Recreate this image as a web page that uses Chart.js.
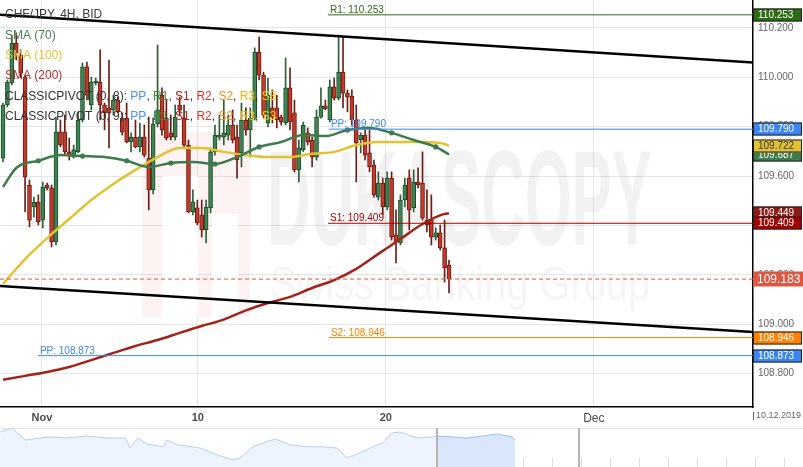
<!DOCTYPE html>
<html>
<head>
<meta charset="utf-8">
<script src="https://cdn.jsdelivr.net/npm/chart.js@4.4.1/dist/chart.umd.min.js"></script>
<style>
html, body { margin: 0; padding: 0; background: #fff; }
#wrap { position: relative; width: 803px; height: 467px; overflow: hidden; }
#main { position: absolute; left: 0; top: 0; width: 803px; height: 428px; }
#nav { position: absolute; left: 0; top: 428px; width: 803px; height: 39px; }
</style>
</head>
<body>
<div id="wrap">
  <canvas id="main" width="803" height="428"></canvas>
  <canvas id="nav" width="803" height="39"></canvas>
</div>
<script>
// CHF/JPY 4H candles, index 0 = first visible candle
const opens = [
  109.673, 109.888, 109.977, 110.139, 110.090, 110.001, 109.564, 109.475, 109.495, 109.422,
  109.564, 109.552, 109.333, 109.779, 109.779, 109.698, 109.677, 109.698, 109.827, 110.042,
  109.888, 109.977, 109.981, 109.888, 109.876, 109.868, 109.908, 109.835, 109.835, 109.738,
  109.758, 109.718, 109.758, 109.673, 109.544, 109.811, 109.928, 109.835, 109.775, 109.758,
  109.888, 109.835, 109.726, 109.455, 109.471, 109.443, 109.382, 109.471, 109.698, 109.758,
  109.758, 109.766, 109.807, 109.758, 109.694, 109.827, 109.787, 109.835, 110.102, 110.009,
  109.815, 109.876, 109.876, 109.839, 109.815, 109.957, 109.856, 109.625, 109.706, 109.775,
  109.746, 109.677, 109.839, 109.884, 109.827, 109.961, 109.916, 110.021, 109.936, 109.924,
  109.827, 109.746, 109.766, 109.694, 109.645, 109.515, 109.572, 109.475, 109.592, 109.362,
  109.329, 109.503, 109.592, 109.471, 109.576, 109.572, 109.422, 109.422, 109.353, 109.370,
  109.309, 109.240
];
const highs = [
  109.896, 109.989, 110.171, 110.179, 110.111, 110.009, 109.584, 109.515, 109.524, 109.576,
  109.572, 109.564, 109.839, 109.827, 109.847, 109.754, 109.726, 109.860, 110.058, 110.062,
  110.001, 109.997, 110.111, 109.896, 110.070, 109.928, 109.920, 109.856, 109.896, 109.775,
  109.827, 109.815, 109.807, 109.839, 109.835, 110.131, 109.957, 109.908, 109.847, 109.888,
  109.920, 109.888, 109.746, 109.544, 109.503, 109.503, 109.503, 109.714, 109.807, 109.847,
  109.908, 109.847, 109.868, 109.807, 109.896, 109.876, 109.876, 110.119, 110.163, 110.021,
  109.997, 109.949, 109.928, 109.847, 110.078, 110.038, 109.908, 109.746, 109.819, 109.795,
  109.758, 109.868, 109.957, 109.908, 109.989, 109.997, 110.171, 110.163, 109.949, 109.949,
  109.888, 109.775, 109.787, 109.787, 109.665, 109.617, 109.592, 109.617, 109.617, 109.463,
  109.524, 109.592, 109.625, 109.625, 109.633, 109.698, 109.544, 109.524, 109.390, 109.402,
  109.422, 109.260
];
const lows = [
  109.657, 109.880, 109.969, 110.070, 109.997, 109.455, 109.394, 109.434, 109.402, 109.390,
  109.544, 109.313, 109.321, 109.718, 109.685, 109.665, 109.673, 109.694, 109.819, 109.908,
  109.868, 109.969, 109.827, 109.787, 109.714, 109.847, 109.856, 109.766, 109.734, 109.698,
  109.714, 109.698, 109.677, 109.463, 109.528, 109.799, 109.766, 109.746, 109.746, 109.746,
  109.847, 109.714, 109.451, 109.443, 109.402, 109.353, 109.329, 109.451, 109.685, 109.746,
  109.726, 109.746, 109.734, 109.592, 109.637, 109.766, 109.677, 109.827, 109.989, 109.835,
  109.799, 109.815, 109.795, 109.807, 109.807, 109.787, 109.617, 109.576, 109.698, 109.726,
  109.637, 109.665, 109.835, 109.868, 109.819, 109.908, 109.908, 109.876, 109.860, 109.807,
  109.576, 109.694, 109.665, 109.617, 109.515, 109.503, 109.443, 109.463, 109.341, 109.248,
  109.321, 109.475, 109.382, 109.455, 109.552, 109.422, 109.374, 109.321, 109.341, 109.301,
  109.171, 109.127
];
const closes = [
  109.888, 109.981, 110.139, 110.098, 110.017, 109.596, 109.422, 109.495, 109.414, 109.556,
  109.552, 109.333, 109.779, 109.726, 109.698, 109.685, 109.706, 109.827, 110.042, 109.928,
  109.981, 109.981, 109.888, 109.856, 109.856, 109.908, 109.860, 109.779, 109.738, 109.758,
  109.718, 109.758, 109.685, 109.544, 109.811, 109.868, 109.787, 109.754, 109.758, 109.839,
  109.868, 109.726, 109.455, 109.495, 109.410, 109.382, 109.475, 109.698, 109.766, 109.766,
  109.775, 109.807, 109.746, 109.665, 109.827, 109.787, 109.835, 110.102, 110.009, 109.847,
  109.928, 109.839, 109.827, 109.819, 109.957, 109.819, 109.625, 109.714, 109.807, 109.738,
  109.677, 109.839, 109.884, 109.872, 109.961, 109.916, 110.021, 109.936, 109.920, 109.827,
  109.734, 109.766, 109.685, 109.637, 109.524, 109.572, 109.475, 109.592, 109.353, 109.333,
  109.503, 109.564, 109.463, 109.576, 109.564, 109.430, 109.402, 109.353, 109.370, 109.309,
  109.228, 109.183
];
const lastPrice = 109.183;

// moving averages, read at candle indices
const sma70Idx = [0, 3, 8, 13, 18, 23, 28, 33, 38, 43, 48, 53, 58, 63, 68, 73, 78, 83, 88, 93, 98, 101];
const sma70 = [109.556, 109.633, 109.662, 109.685, 109.681, 109.677, 109.662, 109.637, 109.653, 109.657, 109.649,
  109.677, 109.718, 109.738, 109.766, 109.762, 109.787, 109.795, 109.775, 109.746, 109.718, 109.687];
const smaIdx = [0, 5, 10, 15, 20, 25, 30, 35, 40, 45, 50, 55, 60, 65, 70, 75, 80, 85, 90, 95, 100, 101];
const sma100 = [109.163, 109.264, 109.349, 109.426, 109.503, 109.568, 109.625, 109.677, 109.714, 109.714, 109.698,
  109.685, 109.677, 109.677, 109.690, 109.698, 109.726, 109.738, 109.738, 109.738, 109.730, 109.722];
const sma200 = [108.775, 108.791, 108.807, 108.827, 108.855, 108.884, 108.912, 108.936, 108.965, 108.993, 109.019,
  109.056, 109.086, 109.111, 109.147, 109.179, 109.224, 109.285, 109.345, 109.406, 109.447, 109.449];

// channel trendlines (value at left edge, value at right edge)
const trendIdx = [-0.68, 169.84];
const upperTrend = [110.253, 110.060];
const lowerTrend = [109.155, 108.969];

// pivot levels
const levelNames = ['R1', 'PP', 'S1', 'S2', 'PP'];
const levelValues = [110.253, 109.790, 109.409, 108.946, 108.873];
const levelStart = [73.6, 73.8, 73.6, 73.8, 7.9];

// axes
const xMin = -0.68, xMax = 169.84;
const yMin = 108.665, yMax = 110.313;
const yTicks = [108.8, 109.0, 109.2, 109.4, 109.6, 109.8, 110.0, 110.2];
const dateTickIdx = [8.83, 44.1, 86.7, 133.8];
const dateTickLabels = ['Nov', '10', '20', 'Dec'];

// navigator (days, price)
const navDays = [-0.03, 0.38, 0.83, 1.69, 2.28, 2.97, 3.66, 4.28, 4.45, 4.72, 5.03, 5.59, 5.72, 6.07, 6.86, 7.45,
  8.00, 8.24, 8.69, 9.45, 9.97, 10.55, 11.10, 11.59, 11.93, 12.38, 12.83, 13.17, 13.48, 13.76, 14.34, 14.90,
  15.03, 15.48, 16.07, 16.62, 17.10, 17.62, 17.72];
const navValues = [109.90, 110.00, 109.70, 109.78, 109.75, 109.80, 109.75, 109.75, 109.50, 109.75, 109.60, 109.53,
  109.70, 109.58, 109.50, 109.33, 109.20, 109.25, 109.53, 109.73, 109.58, 109.53, 109.53, 109.50, 109.25, 109.38,
  109.53, 109.63, 109.88, 109.90, 109.75, 109.78, 109.80, 109.78, 109.75, 109.80, 109.85, 109.78, 109.70];
const navSplit = 15.03;
const navHandles = [15.03, 19.93];

const FONT = 'Arial, "Liberation Sans", sans-serif';
const levelColors = ['#2e6b14', '#3d86f2', '#a50000', '#ff8000', '#3d86f2'];
const upCol = '#3f8552', upEdge = '#1d4a2b', upWick = '#2b5e39';
const dnCol = '#c4392a', dnEdge = '#6b1a10', dnWick = '#6e1d14';

const isUp = (i) => closes[i] >= opens[i];

const watermark = {
    id: 'watermark',
    beforeDatasetsDraw(chart) {
        const ctx = chart.ctx;
        ctx.save();
        // logo block
        ctx.fillStyle = 'rgba(230,90,90,0.07)';
        ctx.fillRect(142, 132, 108, 185);
        ctx.fillStyle = '#fff';
        ctx.fillRect(162, 176, 36, 141);
        ctx.fillRect(212, 214, 26, 103);
        // text
        ctx.fillStyle = 'rgba(0,0,0,0.05)';
        ctx.font = 'bold 135px ' + FONT;
        let w = ctx.measureText('DUKASCOPY').width;
        ctx.save();
        ctx.translate(267, 245);
        ctx.scale(385 / w, 1);
        ctx.fillText('DUKASCOPY', 0, 0);
        ctx.restore();
        ctx.fillStyle = 'rgba(0,0,0,0.04)';
        ctx.font = '48px ' + FONT;
        w = ctx.measureText('Swiss Banking Group').width;
        ctx.save();
        ctx.translate(270, 300);
        ctx.scale(380 / w, 1);
        ctx.fillText('Swiss Banking Group', 0, 0);
        ctx.restore();
        ctx.restore();
    }
};

const overlays = {
    id: 'overlays',
    afterDatasetsDraw(chart) {
        const ctx = chart.ctx;
        const xs = chart.scales.x, ys = chart.scales.y;
        ctx.save();
        ctx.font = '10px ' + FONT;
        ctx.textBaseline = 'alphabetic';
        levelNames.forEach((name, i) => {
            ctx.fillStyle = levelColors[i];
            ctx.fillText(name + ': ' + levelValues[i].toFixed(3),
                xs.getPixelForValue(levelStart[i]) + 2, ys.getPixelForValue(levelValues[i]) - 2);
        });
        ctx.restore();
    },
    afterDraw(chart) {
        const ctx = chart.ctx;
        const ys = chart.scales.y;
        const area = chart.chartArea;
        ctx.save();

        // legend block
        const pivotNames = ['PP', 'R1', 'S1', 'R2', 'S2', 'R3', 'S3'];
        const pivotColors = ['#4b8ff0', '#3e8a3e', '#b22222', '#e8312a', '#ff8a1e', '#f0b400', '#f2d400'];
        const pivotRow = (n) => {
            const parts = [['CLASSICPIVOT (0, ' + n + '): ', '#333']];
            pivotNames.forEach((p, k) => {
                parts.push([p, pivotColors[k]]);
                if (k < pivotNames.length - 1) parts.push([', ', '#333']);
            });
            return parts;
        };
        const rows = [
            [['CHF/JPY, 4H, BID', '#3a3a3a']],
            [['SMA (70)', '#4b7f57']],
            [['SMA (100)', '#e6c12c']],
            [['SMA (200)', '#b0332b']],
            pivotRow(8),
            pivotRow(9)
        ];
        ctx.font = '12px ' + FONT;
        ctx.textBaseline = 'middle';
        rows.forEach((row, r) => {
            let x = 5;
            const y = 15 + r * 20.3;
            row.forEach(([t, c]) => {
                ctx.fillStyle = c;
                ctx.fillText(t, x, y);
                x += ctx.measureText(t).width;
            });
        });

        // price tags on the right axis
        const tags = [
            [levelValues[0], '#2d6a14', '#fff'],
            [levelValues[1], '#3d86f2', '#fff'],
            [sma70[sma70.length - 1], '#3f7a4d', '#fff'],
            [sma100[sma100.length - 1], '#e2c235', '#333'],
            [sma200[sma200.length - 1], '#8e1b14', '#fff'],
            [levelValues[2], '#a30000', '#fff'],
            [levelValues[3], '#ff8000', '#fff'],
            [levelValues[4], '#3d86f2', '#fff']
        ];
        ctx.font = '10px ' + FONT;
        tags.forEach(([v, bg, fg]) => {
            const y = Math.round(ys.getPixelForValue(v));
            ctx.fillStyle = bg;
            ctx.fillRect(area.right, y - 6.5, 49, 13);
            ctx.strokeStyle = '#222';
            ctx.lineWidth = 1;
            ctx.strokeRect(area.right + 0.5, y - 6, 48, 12);
            ctx.fillStyle = fg;
            ctx.fillText(v.toFixed(3), area.right + 5, y + 0.5);
        });
        const py = Math.round(ys.getPixelForValue(lastPrice));
        ctx.fillStyle = '#dd5841';
        ctx.fillRect(area.right, py - 7.5, 50, 15);
        ctx.fillStyle = '#fff';
        ctx.font = '12px ' + FONT;
        ctx.fillText(lastPrice.toFixed(3), area.right + 4, py + 0.5);

        // end date on the time axis
        ctx.fillStyle = '#666';
        ctx.font = '9px ' + FONT;
        ctx.fillText('10.12.2019', area.right + 3, area.bottom + 9);
        ctx.strokeStyle = '#666';
        ctx.beginPath();
        ctx.moveTo(area.right + 0.5, area.bottom + 5);
        ctx.lineTo(area.right + 0.5, area.bottom + 13);
        ctx.stroke();
        ctx.restore();
    }
};

const lineSet = (xs, ys, color, width, extra) => Object.assign({
    type: 'line',
    data: xs.map((x, k) => ({ x: x, y: ys[k] })),
    borderColor: color,
    borderWidth: width,
    pointRadius: 0,
    fill: false
}, extra || {});

const datasets = [
    {
        type: 'bar',
        data: highs.map((h, i) => ({ x: i, y: [lows[i], h] })),
        backgroundColor: (c) => isUp(c.dataIndex) ? upWick : dnWick,
        barThickness: 1,
        borderWidth: 0,
        grouped: false,
        order: 20
    },
    {
        type: 'bar',
        data: opens.map((o, i) => ({ x: i, y: [o, closes[i]] })),
        backgroundColor: (c) => isUp(c.dataIndex) ? upCol : dnCol,
        borderColor: (c) => isUp(c.dataIndex) ? upEdge : dnEdge,
        borderWidth: 1,
        borderSkipped: false,
        barThickness: 4,
        minBarLength: 2,
        grouped: false,
        order: 19
    },
    lineSet(smaIdx, sma200, '#a3231b', 2.5, { cubicInterpolationMode: 'monotone', order: 6 }),
    lineSet(smaIdx, sma100, '#e3c232', 2.5, { cubicInterpolationMode: 'monotone', order: 5 }),
    lineSet(sma70Idx, sma70, '#3e7b4c', 2.5, {
        cubicInterpolationMode: 'monotone',
        order: 4,
        pointRadius: (c) => ((sma70Idx[c.dataIndex] - 8) % 10 === 0 ? 2.6 : 0),
        pointBackgroundColor: '#3e7b4c',
        pointBorderWidth: 0
    }),
    lineSet([xMin, xMax], [lastPrice, lastPrice], '#e0553f', 1, { borderDash: [4, 3], order: 3 })
];
levelValues.forEach((v, i) => {
    datasets.push(lineSet([levelStart[i], xMax], [v, v], levelColors[i], 1, { order: 3 }));
});
datasets.push(lineSet(trendIdx, upperTrend, '#000', 2.5, { order: 1 }));
datasets.push(lineSet(trendIdx, lowerTrend, '#000', 2.5, { order: 1 }));

new Chart(document.getElementById('main'), {
    type: 'bar',
    data: { datasets: datasets },
    options: {
        responsive: false,
        devicePixelRatio: 1,
        animation: false,
        events: [],
        layout: { padding: 0 },
        plugins: { legend: { display: false }, tooltip: { enabled: false } },
        scales: {
            x: {
                type: 'linear',
                min: xMin,
                max: xMax,
                offset: false,
                grid: { color: '#e6e6e6', drawTicks: false, offset: false },
                border: { color: '#000', width: 1.5 },
                ticks: {
                    autoSkip: false,
                    maxRotation: 0,
                    padding: 4,
                    color: '#4a4a4a',
                    font: (c) => (c.index === 3 ? { size: 12, family: FONT } : { size: 11, weight: 'bold', family: FONT }),
                    callback: (v, i) => dateTickLabels[i]
                },
                afterBuildTicks: (s) => { s.ticks = dateTickIdx.map((v) => ({ value: v })); },
                afterFit: (s) => { s.height = 21; s.paddingLeft = 0; s.paddingRight = 0; }
            },
            y: {
                type: 'linear',
                position: 'right',
                min: yMin,
                max: yMax,
                grid: { color: '#e6e6e6', drawTicks: false },
                border: { color: '#000', width: 1.5 },
                ticks: {
                    padding: 5,
                    color: '#666',
                    font: { size: 10, family: FONT },
                    callback: (v) => Number(v).toFixed(3)
                },
                afterBuildTicks: (s) => { s.ticks = yTicks.map((v) => ({ value: v })); },
                afterFit: (s) => { s.width = 50; s.paddingTop = 0; s.paddingBottom = 0; }
            }
        }
    },
    plugins: [watermark, overlays]
});

// navigator strip
const navFrame = {
    id: 'navFrame',
    beforeDatasetsDraw(chart) {
        const ctx = chart.ctx;
        const xs = chart.scales.x;
        ctx.save();
        ctx.strokeStyle = '#e4e4e4';
        ctx.lineWidth = 1;
        ctx.beginPath();
        ctx.moveTo(0, 0.5);
        ctx.lineTo(chart.width, 0.5);
        ctx.stroke();
        ctx.strokeStyle = '#dcdcdc';
        for (let d = 1; d <= 27; d++) {
            const x = Math.round(xs.getPixelForValue(d)) + 0.5;
            ctx.beginPath();
            ctx.moveTo(x, 30);
            ctx.lineTo(x, 39);
            ctx.stroke();
        }
        ctx.restore();
    },
    afterDraw(chart) {
        const ctx = chart.ctx;
        const xs = chart.scales.x;
        ctx.save();
        ctx.strokeStyle = '#b4b4b4';
        ctx.lineWidth = 2;
        navHandles.forEach((d) => {
            const x = Math.round(xs.getPixelForValue(d));
            ctx.beginPath();
            ctx.moveTo(x, 0);
            ctx.lineTo(x, 39);
            ctx.stroke();
        });
        ctx.restore();
    }
};

const navPts = navDays.map((d, k) => ({ x: d, y: navValues[k] }));
new Chart(document.getElementById('nav'), {
    type: 'line',
    data: {
        datasets: [
            {
                data: navPts.filter((p) => p.x <= navSplit),
                borderColor: '#b7cff4',
                backgroundColor: '#eef4fd',
                borderWidth: 1,
                pointRadius: 0,
                fill: 'start'
            },
            {
                data: navPts.filter((p) => p.x >= navSplit),
                borderColor: '#9dbcf0',
                backgroundColor: '#d9e6fb',
                borderWidth: 1,
                pointRadius: 0,
                fill: 'start'
            }
        ]
    },
    options: {
        responsive: false,
        devicePixelRatio: 1,
        animation: false,
        events: [],
        layout: { padding: 0 },
        plugins: { legend: { display: false }, tooltip: { enabled: false } },
        scales: {
            x: { type: 'linear', min: -0.0345, max: 27.655, display: false },
            y: { min: 109.025, max: 110.0, display: false }
        }
    },
    plugins: [navFrame]
});
</script>
</body>
</html>
